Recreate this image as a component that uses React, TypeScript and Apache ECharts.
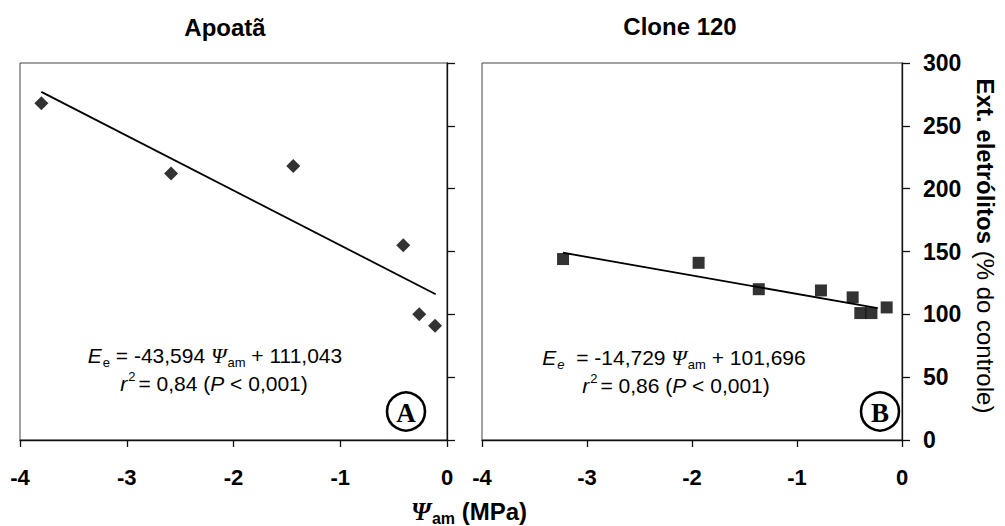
import React, { useEffect, useRef } from "react";
import * as echarts from "echarts";

// ---- data ----
const xTicks = [-4, -3, -2, -1, 0];
const yTicks = [0, 50, 100, 150, 200, 250, 300];

const panelTitles = ["Apoatã", "Clone 120"];

const apoataX = [-3.8, -2.585, -1.44, -0.41, -0.26, -0.112];
const apoataY = [268, 212, 218, 155, 100, 91];
const apoataFitX = [-3.8, -0.106];
const apoataFitY = [277, 116];

const cloneX = [-3.228, -1.937, -1.364, -0.772, -0.47, -0.397, -0.291, -0.146];
const cloneY = [144, 141, 120, 119, 113.5, 101, 101, 105.5];
const cloneFitX = [-3.228, -0.232];
const cloneFitY = [149, 105];

const FONT = "'Liberation Sans', Arial, sans-serif";
const SERIF = "'Liberation Serif', 'Times New Roman', serif";

function zip(xs: number[], ys: number[]) {
  return xs.map((x, i) => [x, ys[i]]);
}

const richEq = {
  n: { fontSize: 21, lineHeight: 28, fontFamily: FONT, color: "#000" },
  i: { fontSize: 21, lineHeight: 28, fontFamily: FONT, fontStyle: "italic", color: "#000" },
  psi: { fontSize: 22, lineHeight: 28, fontFamily: SERIF, fontStyle: "italic", color: "#000" },
  sub: { fontSize: 13, lineHeight: 13, padding: [15, 0, 0, 1], fontFamily: FONT, color: "#000" },
  subI: { fontSize: 13, lineHeight: 13, padding: [15, 0, 0, 1], fontFamily: FONT, fontStyle: "italic", color: "#000" },
  sup: { fontSize: 13, lineHeight: 13, padding: [0, 3, 13, 1], fontFamily: FONT, color: "#000" },
};

export default function App() {
  const ref = useRef<HTMLDivElement>(null);

  useEffect(() => {
    if (!ref.current) return;
    const chart = echarts.init(ref.current, null, { renderer: "svg" });

    const axisLineStyle = { color: "#111", width: 1.3 };
    const xAxisBase = (gridIndex: number) => ({
      type: "value",
      gridIndex,
      min: xTicks[0],
      max: xTicks[xTicks.length - 1],
      interval: 1,
      axisLine: { show: true, onZero: false, lineStyle: axisLineStyle },
      axisTick: { show: true, inside: false, length: 7, lineStyle: axisLineStyle },
      splitLine: { show: false },
      axisLabel: {
        show: true,
        margin: 26,
        fontSize: 22,
        fontWeight: "bold",
        fontFamily: FONT,
        color: "#000",
      },
    });
    const yAxisBase = (gridIndex: number, showLabel: boolean) => ({
      type: "value",
      gridIndex,
      position: "right",
      min: yTicks[0],
      max: yTicks[yTicks.length - 1],
      interval: 50,
      axisLine: { show: true, lineStyle: axisLineStyle },
      axisTick: { show: true, inside: false, length: 8, lineStyle: axisLineStyle },
      splitLine: { show: false },
      axisLabel: {
        show: showLabel,
        margin: 21,
        fontSize: 23,
        fontWeight: "bold",
        fontFamily: FONT,
        color: "#000",
      },
    });

    const option = {
      animation: false,
      backgroundColor: "#fff",
      grid: [
        { left: 20, top: 63, width: 427, height: 377, show: true, borderColor: "#444", borderWidth: 1, backgroundColor: "transparent" },
        { left: 482, top: 63, width: 420, height: 377, show: true, borderColor: "#444", borderWidth: 1, backgroundColor: "transparent" },
      ],
      xAxis: [xAxisBase(0), xAxisBase(1)],
      yAxis: [yAxisBase(0, false), yAxisBase(1, true)],
      series: [
        {
          type: "line",
          xAxisIndex: 0,
          yAxisIndex: 0,
          data: zip(apoataFitX, apoataFitY),
          symbol: "none",
          lineStyle: { color: "#000", width: 1.8 },
        },
        {
          type: "scatter",
          xAxisIndex: 0,
          yAxisIndex: 0,
          data: zip(apoataX, apoataY),
          symbol: "diamond",
          symbolSize: 14,
          itemStyle: { color: "#000" },
        },
        {
          type: "line",
          xAxisIndex: 1,
          yAxisIndex: 1,
          data: zip(cloneFitX, cloneFitY),
          symbol: "none",
          lineStyle: { color: "#000", width: 1.8 },
        },
        {
          type: "scatter",
          xAxisIndex: 1,
          yAxisIndex: 1,
          data: zip(cloneX, cloneY),
          symbol: "rect",
          symbolSize: 12,
          itemStyle: { color: "#000" },
        },
      ],
      graphic: [
        {
          type: "text",
          x: 225,
          y: 27,
          style: { text: panelTitles[0], font: `bold 24px ${FONT}`, fill: "#000", align: "center", verticalAlign: "middle" },
        },
        {
          type: "text",
          x: 680,
          y: 26,
          style: { text: panelTitles[1], font: `bold 24px ${FONT}`, fill: "#000", align: "center", verticalAlign: "middle" },
        },
        // equations panel A
        {
          type: "text",
          x: 215,
          y: 355,
          style: {
            text: "{i|E}{sub|e}{n| = -43,594 }{psi|Ψ}{sub|am}{n| + 111,043}",
            rich: richEq,
            align: "center",
            verticalAlign: "middle",
          },
        },
        {
          type: "text",
          x: 214,
          y: 383,
          style: {
            text: "{i|r}{sup|2}{n|= 0,84 (}{i|P}{n| < 0,001)}",
            rich: richEq,
            align: "center",
            verticalAlign: "middle",
          },
        },
        // equations panel B
        {
          type: "text",
          x: 674,
          y: 357,
          style: {
            text: "{i|E}{subI|e}{n|  = -14,729 }{psi|Ψ}{sub|am}{n| + 101,696}",
            rich: richEq,
            align: "center",
            verticalAlign: "middle",
          },
        },
        {
          type: "text",
          x: 676,
          y: 385,
          style: {
            text: "{i|r}{sup|2}{n|= 0,86 (}{i|P}{n| < 0,001)}",
            rich: richEq,
            align: "center",
            verticalAlign: "middle",
          },
        },
        // circled letters
        { type: "circle", shape: { cx: 406, cy: 411.5, r: 19 }, style: { fill: "none", stroke: "#000", lineWidth: 2.6 } },
        {
          type: "text",
          x: 406,
          y: 413,
          style: { text: "A", font: `bold 27px ${SERIF}`, fill: "#000", align: "center", verticalAlign: "middle" },
        },
        { type: "circle", shape: { cx: 880, cy: 411.5, r: 19 }, style: { fill: "none", stroke: "#000", lineWidth: 2.6 } },
        {
          type: "text",
          x: 880,
          y: 413,
          style: { text: "B", font: `bold 27px ${SERIF}`, fill: "#000", align: "center", verticalAlign: "middle" },
        },
        // y axis title
        {
          type: "text",
          x: 985,
          y: 246,
          rotation: -Math.PI / 2,
          style: {
            text: "{b|Ext. eletrólitos}{r| (% do controle)}",
            rich: {
              b: { fontSize: 24, fontWeight: "bold", fontFamily: FONT, color: "#000" },
              r: { fontSize: 24, fontFamily: FONT, color: "#000" },
            },
            align: "center",
            verticalAlign: "middle",
          },
        },
        // x axis title
        {
          type: "text",
          x: 469,
          y: 511,
          style: {
            text: "{p|Ψ}{s|am}{b| (MPa)}",
            rich: {
              p: { fontSize: 25, lineHeight: 30, fontWeight: "bold", fontStyle: "italic", fontFamily: SERIF, color: "#000" },
              s: { fontSize: 16, lineHeight: 16, padding: [14, 0, 0, 1], fontWeight: "bold", fontFamily: FONT, color: "#000" },
              b: { fontSize: 24, lineHeight: 30, fontWeight: "bold", fontFamily: FONT, color: "#000" },
            },
            align: "center",
            verticalAlign: "middle",
          },
        },
      ],
    };

    chart.setOption(option as any);
    return () => chart.dispose();
  }, []);

  return (
    <div
      ref={ref}
      style={{ position: "fixed", left: 0, top: 0, width: 1005, height: 526, background: "#fff" }}
    />
  );
}
